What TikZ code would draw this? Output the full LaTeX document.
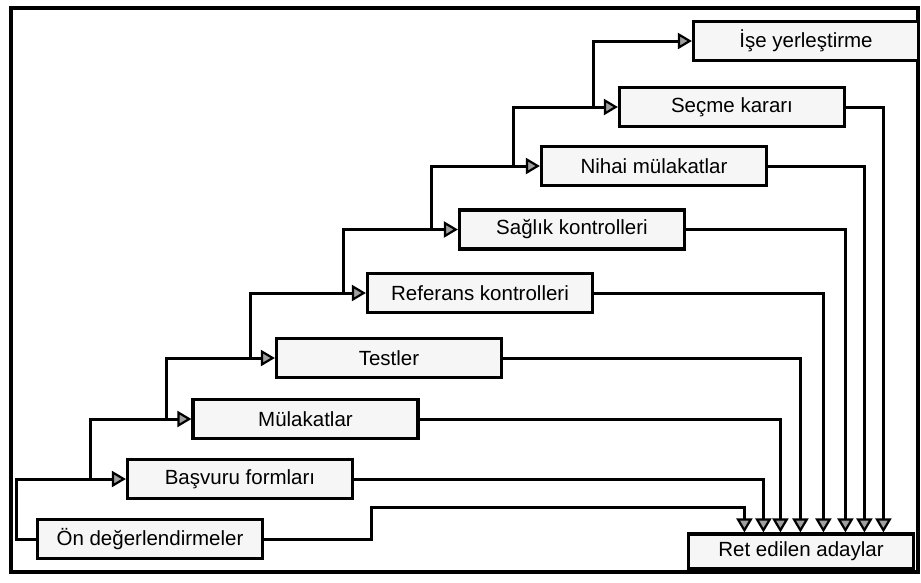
\documentclass[tikz,border=0pt]{standalone}
\usepackage{fontspec}
\setmainfont{Liberation Sans}
\usetikzlibrary{arrows.meta,calc}
\begin{document}
\begin{tikzpicture}[x=1pt,y=-1pt,
  box/.style={draw=black,line width=3.2pt,fill=gray!7,minimum width=225pt,minimum height=39pt,inner sep=0pt,font=\fontsize{20.5}{24}\selectfont},
  arr/.style={line width=3pt,-{Triangle[length=14pt,width=16pt,fill=gray!75,line width=2.2pt]}}]
\useasboundingbox (0,0) rectangle (921,582);
\draw[line width=4.5pt] (11,8) rectangle (918,572);
% steps
\node[box] (on)  at (150,539)   {Ön değerlendirmeler};
\node[box] (bas) at (240,479)   {Başvuru formları};
\node[box] (mul) at (305.5,419) {Mülakatlar};
\node[box] (tes) at (389,358)   {Testler};
\node[box] (ref) at (480,293)   {Referans kontrolleri};
\node[box] (sag) at (572,229.5) {Sağlık kontrolleri};
\node[box] (nih) at (654,166)   {Nihai mülakatlar};
\node[box] (sec) at (732,107)   {Seçme kararı};
\node[box] (ise) at (806,41)    {İşe yerleştirme};
\node[box,minimum height=35pt] (ret) at (801,551.5) {Ret edilen adaylar};
% staircase of forward arrows
\draw[arr] (on.west) -- ($(on.west)+(-19.5,0)$) |- (bas.west);
\draw[arr] ($(bas.west)+(-35.5,0)$) |- (mul.west);
\draw[arr] ($(mul.west)+(-25,0)$) |- (tes.west);
\draw[arr] ($(tes.west)+(-24,0)$) |- (ref.west);
\draw[arr] ($(ref.west)+(-22.5,0)$) |- (sag.west);
\draw[arr] ($(sag.west)+(-26,0)$) |- (nih.west);
\draw[arr] ($(nih.west)+(-26,0)$) |- (sec.west);
\draw[arr] ($(sec.west)+(-24.5,0)$) |- (ise.west);
% rejections
\draw[arr] (on.east) -| ($(on.east)+(107.5,-32)$) -| ($(ret.north west)+(57.5,0)$);
\draw[arr] (bas.east) -| ($(ret.north west)+(76.5,0)$);
\draw[arr] (mul.east) -| ($(ret.north west)+(93.5,0)$);
\draw[arr] (tes.east) -| ($(ret.north west)+(113.5,0)$);
\draw[arr] (ref.east) -| ($(ret.north west)+(136.5,0)$);
\draw[arr] (sag.east) -| ($(ret.north west)+(158.5,0)$);
\draw[arr] (nih.east) -| ($(ret.north west)+(177.5,0)$);
\draw[arr] (sec.east) -| ($(ret.north west)+(196.5,0)$);
\end{tikzpicture}
\end{document}
